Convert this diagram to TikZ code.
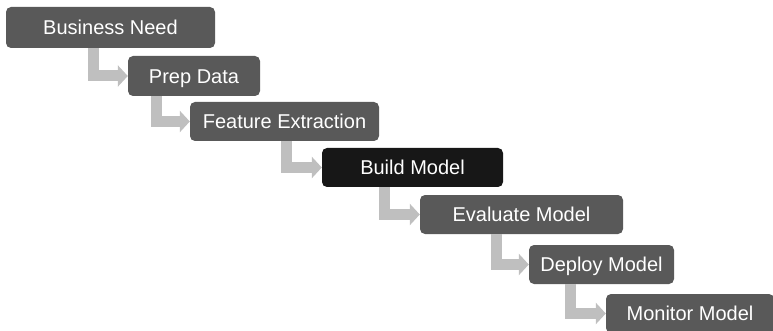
\documentclass[tikz,border=0pt]{standalone}
\usepackage{fontspec}
\setmainfont{Liberation Sans}
\usetikzlibrary{arrows.meta}
\definecolor{boxgray}{HTML}{595959}
\definecolor{boxdark}{HTML}{171717}
\definecolor{arrgray}{HTML}{BFBFBF}
\begin{document}
\begin{tikzpicture}[x=1pt,y=-1pt,
  stepbox/.style={fill=boxgray, rounded corners=5pt, text=white, inner sep=0pt,
    font=\fontsize{20}{24}\selectfont, text height=14.3pt, text depth=0pt,
    minimum height=39pt},
  flowarr/.style={draw=arrgray, line width=11pt, line join=miter,
    -{Triangle[width=21pt,length=10pt]}}]
\useasboundingbox (0,0) rectangle (773,331);
\node[stepbox, minimum width=209pt, minimum height=41pt] (b1) at (110.5,27.5) {Business Need};
\node[stepbox, minimum width=132pt, minimum height=40pt] (b2) at (194,76) {Prep Data};
\node[stepbox, minimum width=189pt] (b3) at (284.5,121.5) {Feature Extraction};
\node[stepbox, minimum width=181pt, fill=boxdark] (b4) at (412.5,167.5) {Build Model};
\node[stepbox, minimum width=203pt] (b5) at (521.5,214.5) {Evaluate Model};
\node[stepbox, minimum width=145pt] (b6) at (601.5,264.5) {Deploy Model};
\node[stepbox, minimum width=168pt] (b7) at (690,313.5) {Monitor Model};
\draw[flowarr] ([xshift=88pt]b1.south west) |- (b2.west);
\draw[flowarr] ([xshift=29pt]b2.south west) |- (b3.west);
\draw[flowarr] ([xshift=97pt]b3.south west) |- (b4.west);
\draw[flowarr] ([xshift=63pt]b4.south west) |- (b5.west);
\draw[flowarr] ([xshift=77pt]b5.south west) |- (b6.west);
\draw[flowarr] ([xshift=42pt]b6.south west) |- (b7.west);
\end{tikzpicture}
\end{document}
